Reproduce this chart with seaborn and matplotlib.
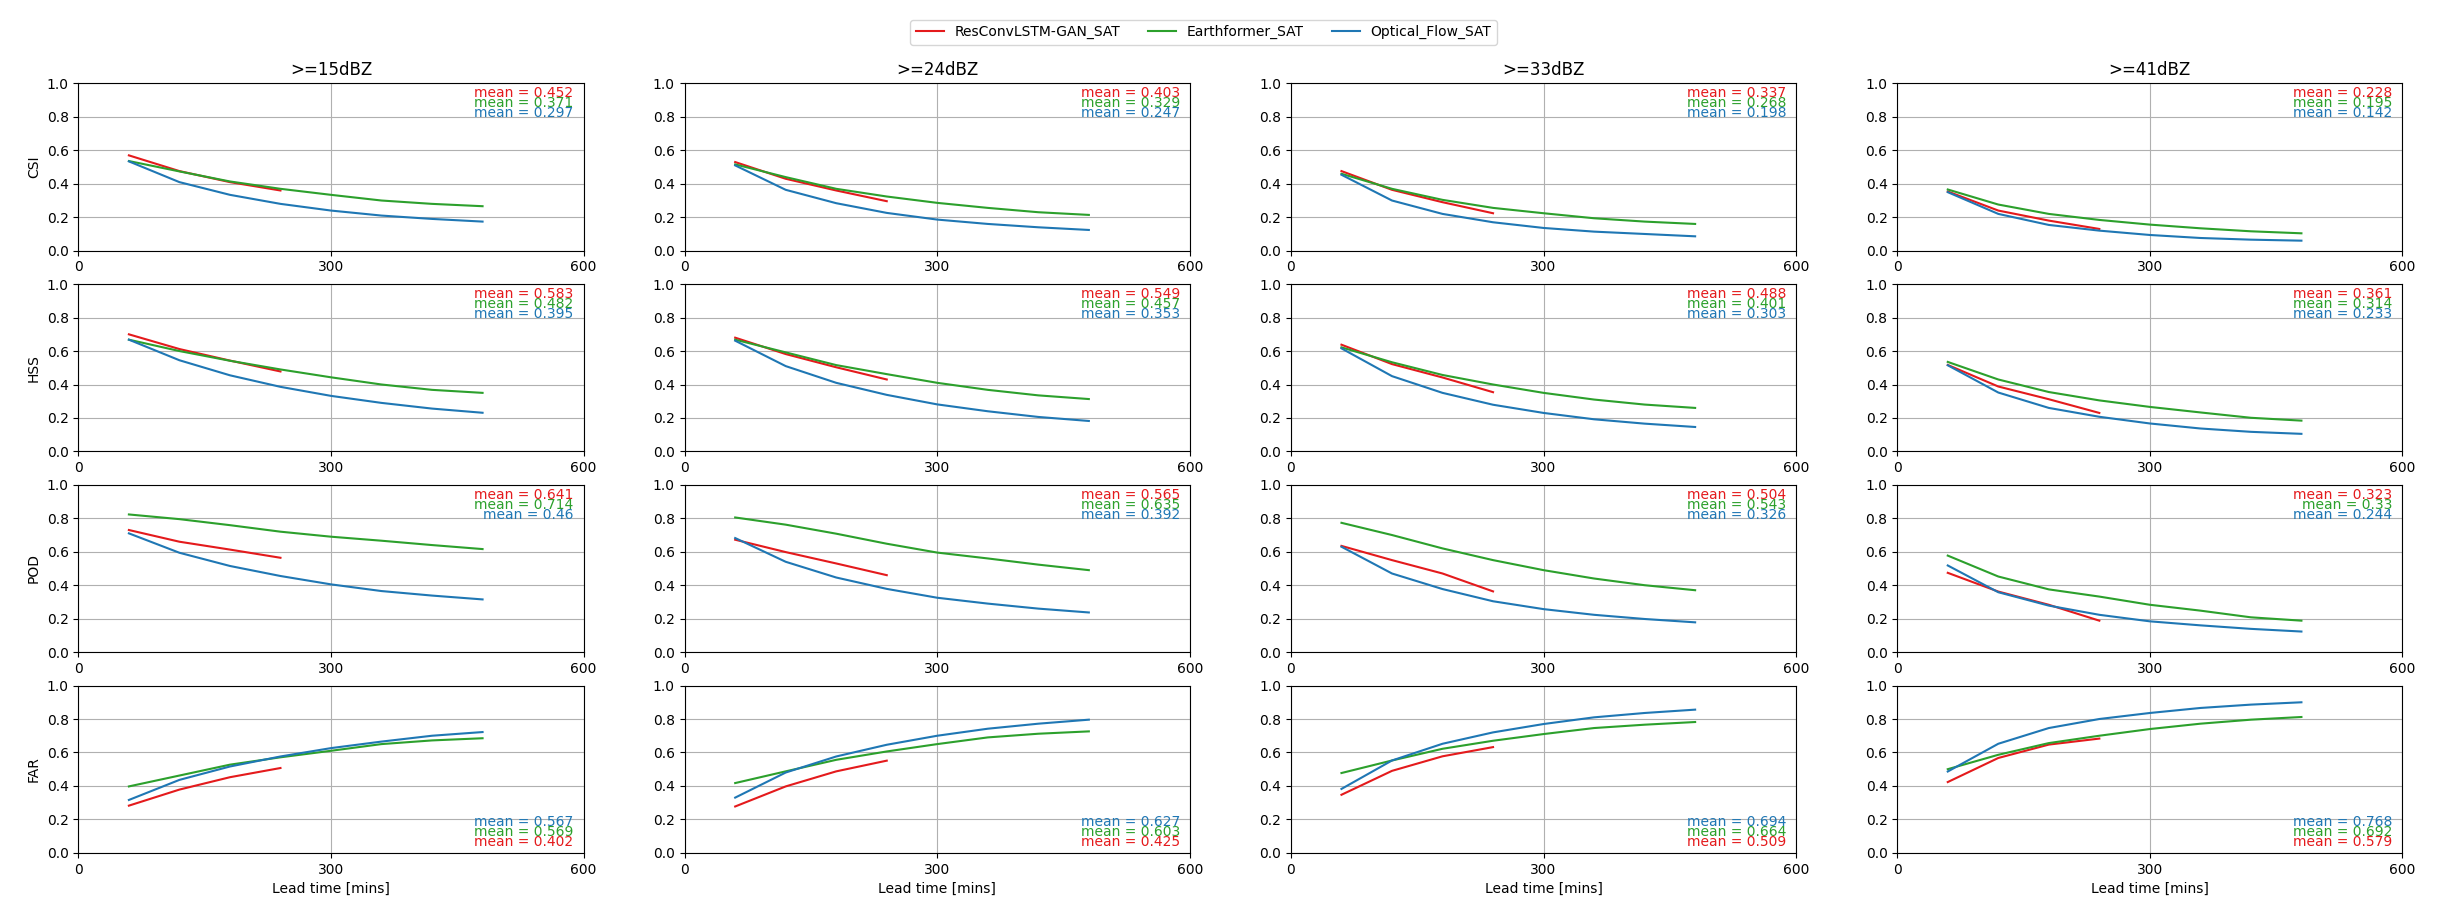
import numpy as np
import pandas as pd
import matplotlib
matplotlib.use("Agg")
import matplotlib.pyplot as plt
import seaborn as sns

# Eixos e rótulos
THRESHOLDS = [">=15dBZ", ">=24dBZ", ">=33dBZ", ">=41dBZ"]
METRICS = ["CSI", "HSS", "POD", "FAR"]
MODELS = ["ResConvLSTM-GAN_SAT", "Earthformer_SAT", "Optical_Flow_SAT"]
LEAD_LONG = [60, 120, 180, 240, 300, 360, 420, 480]
LEAD_SHORT = [60, 120, 180, 240]

# CSI (uma lista por limiar)
CSI_RES = [[0.57, 0.476, 0.41, 0.36],
           [0.53, 0.43, 0.36, 0.296],
           [0.476, 0.364, 0.29, 0.224],
           [0.354, 0.24, 0.18, 0.13]]
CSI_EF = [[0.536, 0.474, 0.414, 0.37, 0.334, 0.30, 0.28, 0.266],
          [0.516, 0.44, 0.37, 0.324, 0.286, 0.256, 0.23, 0.214],
          [0.46, 0.37, 0.304, 0.256, 0.224, 0.194, 0.174, 0.16],
          [0.366, 0.276, 0.22, 0.184, 0.156, 0.134, 0.116, 0.104]]
CSI_OF = [[0.534, 0.41, 0.334, 0.28, 0.24, 0.21, 0.19, 0.174],
          [0.51, 0.364, 0.284, 0.226, 0.186, 0.16, 0.14, 0.124],
          [0.454, 0.30, 0.22, 0.17, 0.136, 0.114, 0.10, 0.086],
          [0.35, 0.22, 0.154, 0.12, 0.094, 0.076, 0.066, 0.06]]

# HSS
HSS_RES = [[0.70, 0.612, 0.543, 0.478],
           [0.68, 0.582, 0.503, 0.43],
           [0.638, 0.522, 0.442, 0.354],
           [0.517, 0.388, 0.312, 0.23]]
HSS_EF = [[0.668, 0.60, 0.542, 0.49, 0.443, 0.40, 0.368, 0.35],
          [0.668, 0.592, 0.516, 0.462, 0.41, 0.368, 0.335, 0.313],
          [0.622, 0.533, 0.457, 0.40, 0.35, 0.31, 0.28, 0.26],
          [0.535, 0.43, 0.355, 0.305, 0.266, 0.233, 0.201, 0.184]]
HSS_OF = [[0.668, 0.545, 0.455, 0.386, 0.332, 0.29, 0.256, 0.231],
          [0.662, 0.51, 0.41, 0.338, 0.281, 0.24, 0.206, 0.182],
          [0.616, 0.45, 0.35, 0.279, 0.23, 0.192, 0.166, 0.146],
          [0.515, 0.352, 0.26, 0.207, 0.167, 0.137, 0.117, 0.105]]

# POD
POD_RES = [[0.73, 0.66, 0.613, 0.564],
           [0.672, 0.598, 0.53, 0.46],
           [0.635, 0.55, 0.47, 0.363],
           [0.474, 0.362, 0.283, 0.188]]
POD_EF = [[0.823, 0.795, 0.759, 0.72, 0.69, 0.666, 0.64, 0.616],
          [0.805, 0.762, 0.708, 0.648, 0.595, 0.56, 0.523, 0.49],
          [0.773, 0.70, 0.62, 0.55, 0.49, 0.44, 0.40, 0.37],
          [0.577, 0.452, 0.375, 0.332, 0.283, 0.248, 0.208, 0.188]]
POD_OF = [[0.71, 0.594, 0.515, 0.455, 0.405, 0.365, 0.338, 0.315],
          [0.682, 0.54, 0.446, 0.378, 0.325, 0.29, 0.26, 0.237],
          [0.63, 0.47, 0.377, 0.304, 0.257, 0.223, 0.198, 0.178],
          [0.518, 0.358, 0.278, 0.223, 0.184, 0.16, 0.139, 0.123]]

# FAR
FAR_RES = [[0.282, 0.378, 0.452, 0.507],
           [0.277, 0.397, 0.487, 0.551],
           [0.347, 0.49, 0.577, 0.632],
           [0.423, 0.567, 0.647, 0.683]]
FAR_EF = [[0.397, 0.462, 0.527, 0.571, 0.61, 0.65, 0.672, 0.685],
          [0.417, 0.487, 0.556, 0.606, 0.65, 0.69, 0.712, 0.726],
          [0.477, 0.552, 0.622, 0.67, 0.71, 0.746, 0.766, 0.782],
          [0.5, 0.586, 0.656, 0.7, 0.74, 0.772, 0.796, 0.812]]
FAR_OF = [[0.316, 0.436, 0.516, 0.576, 0.626, 0.665, 0.7, 0.722],
          [0.33, 0.48, 0.576, 0.646, 0.7, 0.742, 0.772, 0.796],
          [0.382, 0.552, 0.652, 0.72, 0.77, 0.81, 0.836, 0.856],
          [0.486, 0.652, 0.746, 0.8, 0.836, 0.866, 0.886, 0.9]]

# Médias impressas nos painéis (ordem: Res, Earthformer, Optical Flow)
MEAN_CSI = [("0.452", "0.371", "0.297"), ("0.403", "0.329", "0.247"),
            ("0.337", "0.268", "0.198"), ("0.228", "0.195", "0.142")]
MEAN_HSS = [("0.583", "0.482", "0.395"), ("0.549", "0.457", "0.353"),
            ("0.488", "0.401", "0.303"), ("0.361", "0.314", "0.233")]
MEAN_POD = [("0.641", "0.714", "0.46"), ("0.565", "0.635", "0.392"),
            ("0.504", "0.543", "0.326"), ("0.323", "0.33", "0.244")]
MEAN_FAR = [("0.402", "0.569", "0.567"), ("0.425", "0.603", "0.627"),
            ("0.509", "0.664", "0.694"), ("0.579", "0.692", "0.768")]

COLORS = {"ResConvLSTM-GAN_SAT": "#e41a1c",
          "Earthformer_SAT": "#2ca02c",
          "Optical_Flow_SAT": "#1f77b4"}

METRIC_DATA = {
    "CSI": (CSI_RES, CSI_EF, CSI_OF, MEAN_CSI),
    "HSS": (HSS_RES, HSS_EF, HSS_OF, MEAN_HSS),
    "POD": (POD_RES, POD_EF, POD_OF, MEAN_POD),
    "FAR": (FAR_RES, FAR_EF, FAR_OF, MEAN_FAR),
}


def build_frame(res, ef, of):
    """Monta tabela longa para o seaborn."""
    rows = []
    for x, v in zip(LEAD_SHORT, res):
        rows.append((x, v, MODELS[0]))
    for x, v in zip(LEAD_LONG, ef):
        rows.append((x, v, MODELS[1]))
    for x, v in zip(LEAD_LONG, of):
        rows.append((x, v, MODELS[2]))
    return pd.DataFrame(rows, columns=["lead", "score", "model"])


fig, axes = plt.subplots(4, 4, figsize=(24.49, 9.17), dpi=100)
fig.subplots_adjust(left=0.032, right=0.981, top=0.909, bottom=0.07,
                    wspace=0.2, hspace=0.2)

for r, metric in enumerate(METRICS):
    res_all, ef_all, of_all, means = METRIC_DATA[metric]
    for c, thr in enumerate(THRESHOLDS):
        ax = axes[r, c]
        df = build_frame(res_all[c], ef_all[c], of_all[c])
        sns.lineplot(data=df, x="lead", y="score", hue="model",
                     hue_order=MODELS, palette=COLORS, linewidth=1.5,
                     legend=False, ax=ax)
        ax.set_xlim(0, 600)
        ax.set_ylim(0, 1)
        ax.set_xticks([0, 300, 600])
        ax.set_yticks(np.arange(0, 1.01, 0.2))
        ax.grid(True)
        ax.set_xlabel("Lead time [mins]" if r == 3 else "")
        ax.set_ylabel(metric if c == 0 else "")
        if r == 0:
            ax.set_title(thr, fontsize=12)

        # texto das médias
        if metric == "FAR":
            order = [2, 1, 0]
            ys = [0.184, 0.124, 0.064]
        else:
            order = [0, 1, 2]
            ys = [0.942, 0.882, 0.822]
        for k, y in zip(order, ys):
            ax.text(0.98, y, f"mean = {means[c][k]}", color=COLORS[MODELS[k]],
                    transform=ax.transAxes, ha="right", va="center",
                    fontsize=10)

handles = [plt.Line2D([], [], color=COLORS[m], linewidth=1.5) for m in MODELS]
fig.legend(handles, MODELS, loc="upper center", ncol=3,
           bbox_to_anchor=(0.4915, 0.986), columnspacing=2.0)

plt.savefig("out.png", dpi=100)
plt.close()
